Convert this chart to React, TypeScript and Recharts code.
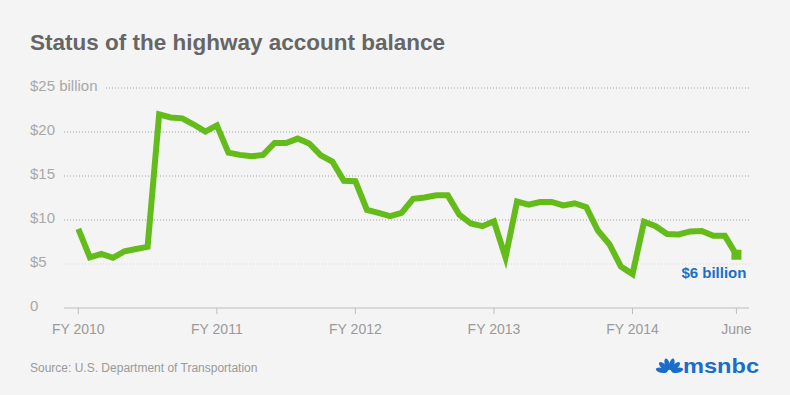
import { Line, LineChart, ReferenceLine, XAxis, YAxis } from 'recharts';

// monthly balance, $ billions, Oct FY2010 .. June 2014
const BALANCE = [
  9.0, 5.75, 6.15, 5.7, 6.45, 6.7, 6.95, 22.0, 21.65, 21.55, 20.85, 20.05,
  20.75, 17.65, 17.4, 17.25, 17.4, 18.75, 18.75, 19.25, 18.7, 17.35, 16.65, 14.45,
  14.4, 11.15, 10.8, 10.45, 10.8, 12.4, 12.55, 12.8, 12.8, 10.6, 9.6, 9.3,
  9.85, 5.75, 12.1, 11.75, 12.05, 12.05, 11.65, 11.9, 11.45, 8.8, 7.25, 4.7,
  3.85, 9.8, 9.3, 8.4, 8.35, 8.7, 8.75, 8.2, 8.2, 6.05,
];

const X_TICKS = [0, 12, 24, 36, 48, 57];
const X_LABELS = ['FY 2010', 'FY 2011', 'FY 2012', 'FY 2013', 'FY 2014', 'June'];
const Y_TICKS = [0, 5, 10, 15, 20, 25];
const Y_LABELS = ['0', '$5', '$10', '$15', '$20', '$25 billion'];
const GRID_VALUES = [5, 10, 15, 20, 25];
const END_LABEL = '$6 billion';

const data = BALANCE.map((value, month) => ({ month, value }));
const lastIndex = data.length - 1;

const FONT = '"Liberation Sans", Arial, Helvetica, sans-serif';
const GREEN = '#64bc1a';
const BLUE = '#1a6dc8';

function XTick({ x, y, payload }: any) {
  const label = X_LABELS[X_TICKS.indexOf(payload.value)];
  return (
    <text x={x} y={y + 18} textAnchor="middle" fontSize={14} fill="#9a9a9a" fontFamily={FONT}>
      {label}
    </text>
  );
}

function YTick({ y, payload }: any) {
  const label = Y_LABELS[Y_TICKS.indexOf(payload.value)];
  return (
    <text x={30} y={y + 3} textAnchor="start" fontSize={15} fill="#a8a8a8" fontFamily={FONT}>
      {label}
    </text>
  );
}

function gridShape(value: number) {
  return (props: any) => (
    <line
      x1={value === 25 ? props.x1 + 42 : props.x1}
      y1={props.y1}
      x2={props.x2}
      y2={props.y2}
      stroke={value === 5 ? '#d6d6d6' : '#a0a0a0'}
      strokeWidth={1}
      strokeDasharray="1 2"
    />
  );
}

function EndDot(props: any) {
  const { cx, cy, index } = props;
  if (index !== lastIndex) return <g key={`d-${index}`} />;
  return (
    <g key={`d-${index}`}>
      <rect x={cx - 5} y={cy - 5} width={10} height={10} fill={GREEN} />
      <text x={cx + 10} y={cy + 23} textAnchor="end" fontSize={15} fontWeight="bold" fill={BLUE} fontFamily={FONT}>
        {END_LABEL}
      </text>
    </g>
  );
}

function Peacock({ x, y }: { x: number; y: number }) {
  const angles = [-78, -47, -16, 16, 47, 78];
  return (
    <g>
      {angles.map((a) => (
        <ellipse
          key={a}
          cx={x}
          cy={y - 8}
          rx={2.5}
          ry={6}
          fill={BLUE}
          transform={`rotate(${a} ${x} ${y})`}
        />
      ))}
    </g>
  );
}

export default function App() {
  return (
    <div style={{ width: 790, height: 395, background: '#f4f4f4', position: 'relative', fontFamily: FONT }}>
      <style>{'body{margin:0}'}</style>
      <LineChart
        width={790}
        height={395}
        data={data}
        margin={{ top: 88, right: 41, bottom: 57, left: 4 }}
      >
        <XAxis
          dataKey="month"
          type="number"
          domain={[-1.24, 58.09]}
          ticks={X_TICKS}
          tick={<XTick />}
          tickSize={6}
          height={30}
          axisLine={{ stroke: '#bdbdbd' }}
          tickLine={{ stroke: '#bdbdbd' }}
          allowDataOverflow
        />
        <YAxis
          type="number"
          domain={[0, 25]}
          ticks={Y_TICKS}
          tick={<YTick />}
          width={60}
          axisLine={false}
          tickLine={false}
          allowDataOverflow
        />
        {GRID_VALUES.map((v) => (
          <ReferenceLine key={v} y={v} shape={gridShape(v)} />
        ))}
        <Line
          type="linear"
          dataKey="value"
          stroke={GREEN}
          strokeWidth={6}
          dot={EndDot}
          activeDot={false}
          isAnimationActive={false}
        />
        <text x={30} y={50} fontSize={22.5} fontWeight="bold" fill="#666666" fontFamily={FONT}>
          Status of the highway account balance
        </text>
        <text x={30} y={372} fontSize={12} fill="#9a9a9a" fontFamily={FONT}>
          Source: U.S. Department of Transportation
        </text>
        <Peacock x={669.5} y={372} />
        <text x={683} y={373} fontSize={21} fontWeight="bold" fill={BLUE} fontFamily={FONT} textLength={76} lengthAdjust="spacingAndGlyphs">
          msnbc
        </text>
      </LineChart>
    </div>
  );
}
